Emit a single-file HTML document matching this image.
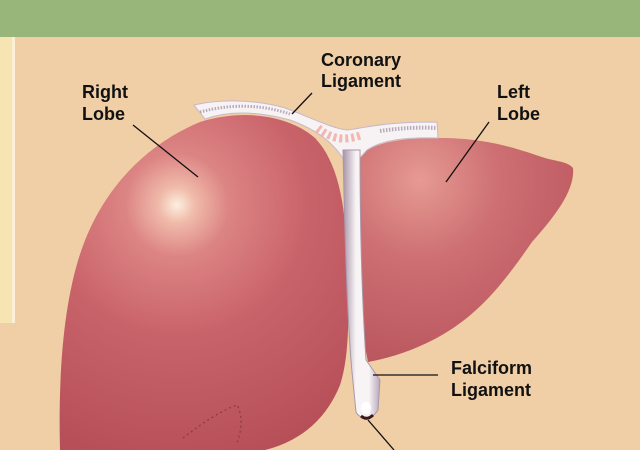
<!DOCTYPE html>
<html><head><meta charset="utf-8"><style>
html,body{margin:0;padding:0;width:640px;height:450px;overflow:hidden;background:#f0cfa6}
svg{display:block}
text{font-family:"Liberation Sans",Arial,sans-serif;font-weight:bold;font-size:18px;fill:#111}
</style></head><body>
<svg width="640" height="450" viewBox="0 0 640 450" xmlns="http://www.w3.org/2000/svg">
<defs>
<radialGradient id="rl" gradientUnits="userSpaceOnUse" cx="177" cy="205" r="260">
<stop offset="0" stop-color="#fcefe0"/>
<stop offset="0.07" stop-color="#f0baa9"/>
<stop offset="0.2" stop-color="#dc8484"/>
<stop offset="0.5" stop-color="#c9636a"/>
<stop offset="1" stop-color="#b64f58"/>
</radialGradient>
<radialGradient id="ll" gradientUnits="userSpaceOnUse" cx="420" cy="180" r="200">
<stop offset="0" stop-color="#e69a92"/>
<stop offset="0.4" stop-color="#cd6f73"/>
<stop offset="1" stop-color="#b8545c"/>
</radialGradient>
<linearGradient id="fl" x1="0" x2="1" y1="0" y2="0">
<stop offset="0" stop-color="#a793a8"/>
<stop offset="0.35" stop-color="#f8f4f6"/>
<stop offset="0.7" stop-color="#f8f4f6"/>
<stop offset="1" stop-color="#b8a6b8"/>
</linearGradient>
</defs>
<rect x="0" y="0" width="640" height="450" fill="#f0cfa6"/>
<rect x="0" y="0" width="640" height="37" fill="#98b57a"/>
<rect x="0" y="37" width="15" height="286" fill="#f7e4b3"/>
<rect x="12" y="37" width="3" height="286" fill="#fbf0d6"/>
<!-- left lobe -->
<path d="M356 160 C370 142 400 138 440 138 C490 138 520 150 545 158 C560 162 568 162 573 168 C575 190 556 215 532 242 C507 278 482 312 442 335 C416 350 390 358 368 362 L356 300 Z" fill="url(#ll)"/>
<!-- right lobe -->
<path d="M60 450 C58 370 64 295 84 243 C105 188 145 145 200 122 C245 108 290 116 315 138 C338 162 346 205 347 260 C349 310 350 355 340 385 C328 415 305 440 265 450 Z" fill="url(#rl)"/>
<path d="M183 438 C200 425 218 412 237 405 C243 415 242 432 236 445" stroke="#8a3a40" stroke-width="1.2" stroke-dasharray="2 3" fill="none"/>
<!-- coronary ligament -->
<path d="M194 105 C215 100 250 98 285 108 C310 117 330 128 347 130 C365 128 380 122 437 122 L438 138 C405 137 382 140 367 150 L358 160 L344 160 C335 145 318 130 290 120 C260 112 230 110 205 119 Z" fill="#f7f3f5" stroke="#c6b8c8" stroke-width="1"/>
<path d="M318 128 C330 138 342 142 362 135" stroke="#efa89f" stroke-width="8" fill="none" stroke-dasharray="3 3" opacity="0.8"/>
<path d="M200 112 C230 104 260 104 290 114" stroke="#b9a9bb" stroke-width="3" fill="none" stroke-dasharray="1.5 1.5"/>
<path d="M380 131 C400 128 420 127 436 128" stroke="#b9a9bb" stroke-width="4" fill="none" stroke-dasharray="1.5 1.5"/>
<!-- falciform -->
<path d="M343 150 L360 150 C360 220 362 300 366 360 L380 380 L378 410 C372 420 360 420 356 412 L352 372 C348 330 345 250 343 150 Z" fill="url(#fl)" stroke="#a898aa" stroke-width="1"/>
<ellipse cx="366" cy="408" rx="5" ry="6" fill="#fff"/>
<path d="M361 416 Q367 421 373 415" stroke="#3a1a1a" stroke-width="3" fill="none"/>
<!-- leader lines -->
<g stroke="#111" stroke-width="1.3">
<line x1="133" y1="125" x2="198" y2="177"/>
<line x1="312" y1="93" x2="292" y2="114"/>
<line x1="489" y1="122" x2="446" y2="182"/>
<line x1="373" y1="375" x2="438" y2="375"/>
<line x1="368" y1="420" x2="394" y2="450"/>
</g>
<text x="82" y="98">Right</text>
<text x="82" y="120">Lobe</text>
<text x="321" y="66">Coronary</text>
<text x="321" y="87">Ligament</text>
<text x="497" y="98">Left</text>
<text x="497" y="120">Lobe</text>
<text x="451" y="374">Falciform</text>
<text x="451" y="396">Ligament</text>
</svg>
</body></html>
